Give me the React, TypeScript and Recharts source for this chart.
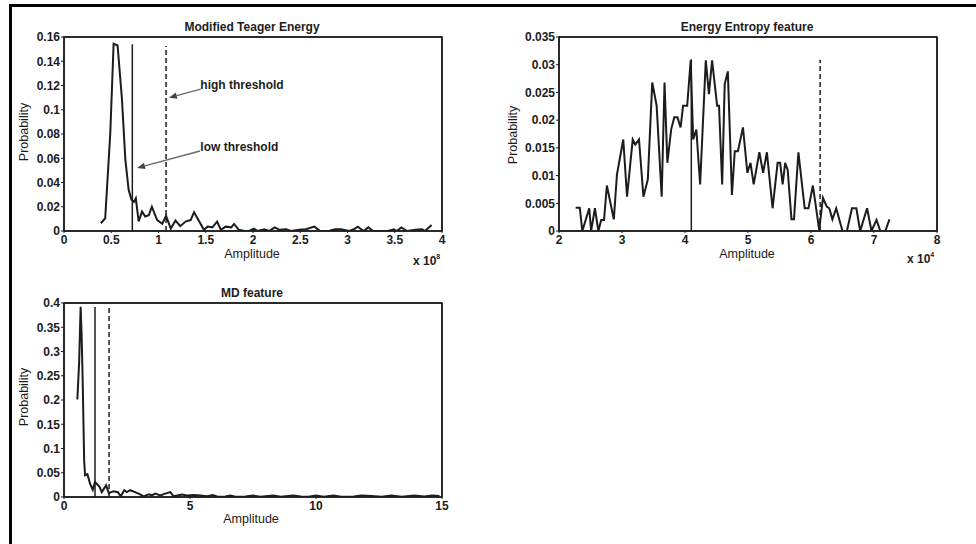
import React from 'react';
import { LineChart, Line, XAxis, YAxis, ReferenceLine, ReferenceDot, ReferenceArea } from 'recharts';

// Modified Teager Energy (amplitude x 10^8)
const teagerAmp = [0.39, 0.436, 0.49, 0.525, 0.567, 0.613, 0.649, 0.684, 0.713, 0.74, 0.76, 0.79, 0.826, 0.86, 0.897, 0.93, 0.986, 1.04, 1.08, 1.13, 1.18, 1.23, 1.29, 1.34, 1.376, 1.43, 1.48, 1.52, 1.57, 1.62, 1.66, 1.71, 1.77, 1.8, 1.85, 1.91, 1.96, 2.01, 2.05, 2.12, 2.17, 2.23, 2.28, 2.35, 2.4, 2.49, 2.56, 2.65, 2.71, 2.8, 2.87, 2.93, 3.02, 3.08, 3.11, 3.17, 3.22, 3.27, 3.35, 3.43, 3.49, 3.52, 3.57, 3.63, 3.72, 3.79, 3.82, 3.89];
const teagerProb = [0.0064, 0.0105, 0.081, 0.1545, 0.153, 0.109, 0.059, 0.034, 0.026, 0.024, 0.027, 0.008, 0.016, 0.012, 0.013, 0.02, 0.009, 0.006, 0.0125, 0.002, 0.0086, 0.004, 0.008, 0.009, 0.0155, 0.008, 0.001, 0.0036, 0.003, 0.0078, 0.001, 0.0036, 0.003, 0.0058, 0.001, 0, 0, 0.002, 0, 0.0014, 0, 0.003, 0.001, 0.0014, 0, 0.001, 0.0014, 0.0036, 0, 0, 0.0014, 0.0014, 0, 0.002, 0.0036, 0, 0.003, 0, 0, 0, 0.0014, 0, 0.003, 0, 0.001, 0.0014, 0, 0.005];
const teagerXTicks = [0, 0.5, 1, 1.5, 2, 2.5, 3, 3.5, 4];
const teagerYTicks = [0, 0.02, 0.04, 0.06, 0.08, 0.1, 0.12, 0.14, 0.16];
const teagerLow = { x: 0.723, top: 0.154 };
const teagerHigh = { x: 1.08, top: 0.1525 };

// Energy Entropy feature (amplitude x 10^4)
const entropyAmp = [2.265, 2.33, 2.37, 2.48, 2.51, 2.57, 2.625, 2.67, 2.715, 2.76, 2.87, 2.92, 3.02, 3.08, 3.17, 3.21, 3.27, 3.34, 3.41, 3.48, 3.55, 3.63, 3.675, 3.72, 3.78, 3.83, 3.88, 3.93, 3.97, 4.035, 4.09, 4.13, 4.18, 4.24, 4.33, 4.38, 4.43, 4.51, 4.54, 4.59, 4.63, 4.68, 4.745, 4.79, 4.84, 4.92, 4.99, 5.04, 5.09, 5.18, 5.24, 5.3, 5.39, 5.47, 5.51, 5.55, 5.59, 5.63, 5.69, 5.73, 5.8, 5.9, 5.96, 6.03, 6.13, 6.19, 6.25, 6.29, 6.34, 6.4, 6.5, 6.57, 6.65, 6.72, 6.78, 6.89, 6.96, 7.04, 7.1, 7.18, 7.245];
const entropyProb = [0.0042, 0.0042, 0, 0.0041, 0, 0.0041, 0, 0.002, 0.002, 0.0082, 0.0021, 0.0102, 0.0165, 0.0062, 0.0165, 0.0156, 0.0165, 0.0062, 0.0093, 0.0268, 0.0226, 0.0062, 0.0268, 0.0123, 0.0183, 0.0205, 0.0205, 0.0187, 0.0226, 0.0226, 0.0308, 0.0165, 0.0183, 0.0084, 0.0308, 0.0247, 0.0308, 0.0226, 0.0226, 0.0084, 0.0265, 0.0288, 0.0065, 0.0144, 0.0144, 0.0187, 0.0105, 0.0123, 0.0084, 0.0142, 0.0105, 0.0142, 0.0041, 0.0123, 0.0123, 0.0084, 0.0123, 0.011, 0.0021, 0.0021, 0.0142, 0.0041, 0.0041, 0.0082, 0.0002, 0.006, 0.0044, 0.0041, 0.0021, 0.0041, 0, 0, 0.0041, 0.0041, 0, 0.0041, 0, 0.002, 0, 0, 0.0021];
const entropyXTicks = [2, 3, 4, 5, 6, 7, 8];
const entropyYTicks = [0, 0.005, 0.01, 0.015, 0.02, 0.025, 0.03, 0.035];
const entropyLow = { x: 4.1, top: 0.031 };
const entropyHigh = { x: 6.145, top: 0.0309 };

// MD feature
const mdAmp = [0.53, 0.6, 0.66, 0.7, 0.74, 0.8, 0.835, 0.93, 1.03, 1.14, 1.23, 1.41, 1.5, 1.67, 1.78, 1.96, 2.14, 2.25, 2.39, 2.49, 2.63, 2.82, 3.02, 3.16, 3.36, 3.49, 3.62, 3.82, 4.02, 4.22, 4.35, 4.68, 4.88, 5.15, 5.41, 5.68, 5.9, 6.1, 6.4, 6.6, 6.8, 7.2, 7.5, 7.8, 8.3, 8.6, 9.1, 9.4, 9.7, 10.0, 10.3, 10.7, 11.0, 11.5, 11.8, 12.2, 12.6, 13.0, 13.4, 13.9, 14.3, 14.6, 14.9];
const mdProb = [0.201, 0.277, 0.392, 0.333, 0.243, 0.076, 0.045, 0.047, 0.028, 0.015, 0.031, 0.021, 0.01, 0.024, 0.008, 0.012, 0.01, 0.0014, 0.014, 0.01, 0.014, 0.01, 0.0055, 0.0014, 0.0055, 0.0035, 0.007, 0.003, 0.007, 0.01, 0.0014, 0.0049, 0.003, 0.004, 0.003, 0.0014, 0.004, 0.0005, 0.001, 0.003, 0.0005, 0.001, 0.003, 0.0005, 0.003, 0.0005, 0.003, 0.001, 0.0005, 0.003, 0.0005, 0.003, 0.0005, 0.001, 0.003, 0.002, 0.0005, 0.003, 0.0005, 0.003, 0.001, 0.003, 0.002];
const mdXTicks = [0, 5, 10, 15];
const mdYTicks = [0, 0.05, 0.1, 0.15, 0.2, 0.25, 0.3, 0.35, 0.4];
const mdLow = { x: 1.23, top: 0.392 };
const mdHigh = { x: 1.79, top: 0.392 };

// annotation arrows on the first panel: [start, end]
const highArrow = [{ x: 1.447, y: 0.117 }, { x: 1.11, y: 0.11 }];
const lowArrow = [{ x: 1.44, y: 0.066 }, { x: 0.773, y: 0.052 }];
const highLabel = { x: 1.443, y: 0.1202, text: 'high threshold' };
const lowLabel = { x: 1.443, y: 0.0696, text: 'low threshold' };

const FONT = 'Arial, "Liberation Sans", Helvetica, sans-serif';
const INK = '#1c1c1c';

const zip = (xs: number[], ys: number[]) =>
  xs.slice(0, Math.min(xs.length, ys.length)).map((x, i) => ({ x, y: ys[i] }));

const fmt = (v: number) => String(Number(v.toFixed(4)));

const tickStyle = { fontSize: 12, fontWeight: 700, fill: INK, fontFamily: FONT };

const Arrow = (p: any) => {
  const { x1, y1, x2, y2 } = p;
  const ang = Math.atan2(y2 - y1, x2 - x1);
  const len = 8;
  const w = 3.2;
  const bx = x2 - len * Math.cos(ang);
  const by = y2 - len * Math.sin(ang);
  const px = -Math.sin(ang) * w;
  const py = Math.cos(ang) * w;
  return (
    <g>
      <line x1={x1} y1={y1} x2={bx} y2={by} stroke="#6a6a6a" strokeWidth={1.4} />
      <polygon points={`${x2},${y2} ${bx + px},${by + py} ${bx - px},${by - py}`} fill="#444" />
    </g>
  );
};

const TextMark = (text: string) => (p: any) => (
  <text x={p.cx} y={p.cy} dy="0.35em" fontSize={12} fontWeight={700} fill={INK} fontFamily={FONT}>
    {text}
  </text>
);

interface PanelProps {
  left: number;
  top: number;
  xs: number[];
  ys: number[];
  xTicks: number[];
  yTicks: number[];
  low: { x: number; top: number };
  high: { x: number; top: number };
  children?: React.ReactNode;
}

function Panel({ left, top, xs, ys, xTicks, yTicks, low, high, children }: PanelProps) {
  const data = zip(xs, ys);
  const xDomain = [xTicks[0], xTicks[xTicks.length - 1]];
  const yDomain = [yTicks[0], yTicks[yTicks.length - 1]];
  return (
    <div style={{ position: 'absolute', left, top }}>
      <LineChart width={440} height={260} data={data} margin={{ top: 27, right: 8, bottom: 9, left: 9 }}>
        <XAxis
          dataKey="x"
          type="number"
          domain={xDomain}
          ticks={xTicks}
          interval={0}
          allowDataOverflow
          height={30}
          tickSize={2}
          tickMargin={2}
          tickFormatter={fmt}
          tick={tickStyle}
          stroke={INK}
          axisLine={{ stroke: INK, strokeWidth: 1.5 }}
        />
        <XAxis
          xAxisId="top"
          orientation="top"
          type="number"
          domain={xDomain}
          ticks={xTicks}
          interval={0}
          allowDataOverflow
          mirror
          height={1}
          tick={false}
          tickSize={4}
          stroke={INK}
          axisLine={{ stroke: INK, strokeWidth: 1.5 }}
        />
        <YAxis
          type="number"
          domain={yDomain}
          ticks={yTicks}
          interval={0}
          allowDataOverflow
          width={45}
          tickSize={3}
          tickMargin={1}
          tickFormatter={fmt}
          tick={tickStyle}
          stroke={INK}
          axisLine={{ stroke: INK, strokeWidth: 1.5 }}
        />
        <YAxis
          yAxisId="right"
          orientation="right"
          type="number"
          domain={yDomain}
          ticks={yTicks}
          interval={0}
          allowDataOverflow
          mirror
          width={1}
          tick={false}
          tickSize={4}
          stroke={INK}
          axisLine={{ stroke: INK, strokeWidth: 1.5 }}
        />
        <ReferenceArea
          x1={xDomain[0]}
          x2={xDomain[1]}
          y1={yDomain[0]}
          y2={yDomain[1]}
          fill="none"
          fillOpacity={0}
          stroke={INK}
          strokeWidth={1.5}
          ifOverflow="visible"
        />
        <Line
          dataKey="y"
          type="linear"
          stroke={INK}
          strokeWidth={2}
          dot={false}
          isAnimationActive={false}
        />
        <ReferenceLine
          segment={[{ x: low.x, y: 0 }, { x: low.x, y: low.top }]}
          stroke={INK}
          strokeWidth={1.5}
          ifOverflow="visible"
        />
        <ReferenceLine
          segment={[{ x: high.x, y: 0 }, { x: high.x, y: high.top }]}
          stroke={INK}
          strokeWidth={1.5}
          strokeDasharray="5 3"
          ifOverflow="visible"
        />
        {children}
      </LineChart>
    </div>
  );
}

const centered = (x: number, y: number, extra: React.CSSProperties = {}): React.CSSProperties => ({
  position: 'absolute',
  left: x,
  top: y,
  transform: 'translate(-50%, -50%)',
  whiteSpace: 'nowrap',
  lineHeight: 1,
  fontFamily: FONT,
  color: INK,
  ...extra,
});

const titleStyle = { fontSize: 12, fontWeight: 700 };
const axisTitleStyle = { fontSize: 12.5 };
const yTitle = { fontSize: 12.5, transform: 'translate(-50%, -50%) rotate(-90deg)' };

function Exponent({ x, y, power }: { x: number; y: number; power: string }) {
  return (
    <div style={{ position: 'absolute', left: x, top: y, fontFamily: FONT, fontSize: 12, fontWeight: 700, color: INK, whiteSpace: 'nowrap', lineHeight: 1 }}>
      x 10<span style={{ fontSize: 7, verticalAlign: 6 }}>{power}</span>
    </div>
  );
}

export default function App() {
  return (
    <div style={{ position: 'absolute', left: 0, top: 0, width: 976, height: 544, background: '#fff', overflow: 'hidden' }}>
      <div style={{ position: 'absolute', left: 9, top: 4, right: -10, bottom: -10, borderLeft: '3px solid #000', borderTop: '3px solid #000' }} />

      <Panel left={10} top={10} xs={teagerAmp} ys={teagerProb} xTicks={teagerXTicks} yTicks={teagerYTicks} low={teagerLow} high={teagerHigh}>
        <ReferenceLine segment={highArrow} shape={Arrow} ifOverflow="visible" />
        <ReferenceLine segment={lowArrow} shape={Arrow} ifOverflow="visible" />
        <ReferenceDot x={highLabel.x} y={highLabel.y} r={0} shape={TextMark(highLabel.text)} ifOverflow="visible" />
        <ReferenceDot x={lowLabel.x} y={lowLabel.y} r={0} shape={TextMark(lowLabel.text)} ifOverflow="visible" />
      </Panel>
      <Panel left={505} top={10} xs={entropyAmp} ys={entropyProb} xTicks={entropyXTicks} yTicks={entropyYTicks} low={entropyLow} high={entropyHigh} />
      <Panel left={10} top={276} xs={mdAmp} ys={mdProb} xTicks={mdXTicks} yTicks={mdYTicks} low={mdLow} high={mdHigh} />

      <div style={centered(252, 27, titleStyle)}>Modified Teager Energy</div>
      <div style={centered(747, 27, titleStyle)}>Energy Entropy feature</div>
      <div style={centered(252, 293, titleStyle)}>MD feature</div>

      <div style={centered(252, 254, axisTitleStyle)}>Amplitude</div>
      <div style={centered(747, 254, axisTitleStyle)}>Amplitude</div>
      <div style={centered(251, 519, axisTitleStyle)}>Amplitude</div>

      <div style={centered(24, 132, yTitle)}>Probability</div>
      <div style={centered(513, 135, yTitle)}>Probability</div>
      <div style={centered(24, 397, yTitle)}>Probability</div>

      <Exponent x={413} y={253} power="8" />
      <Exponent x={907} y={251} power="4" />
    </div>
  );
}
